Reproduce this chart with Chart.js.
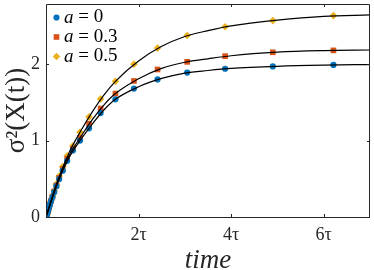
<!DOCTYPE html>
<html>
<head>
<meta charset="utf-8">
<script src="https://cdn.jsdelivr.net/npm/chart.js@4.4.1/dist/chart.umd.min.js"></script>
<style>
  html, body { margin: 0; padding: 0; background: #fff; }
  #wrap { width: 374px; height: 270px; }
</style>
</head>
<body>
<div id="wrap"><canvas id="chart" width="374" height="270"></canvas></div>
<script>
// sample times (in units of tau)
const TIMES = [0.010, 0.013, 0.017, 0.021, 0.027, 0.034, 0.043, 0.054, 0.069, 0.087,
  0.111, 0.140, 0.178, 0.225, 0.285, 0.361, 0.458, 0.580, 0.735, 0.930,
  1.18, 1.50, 1.90, 2.41, 3.05, 3.87, 4.90, 6.21];

// simulated variance, one list per value of a
const VAR_A0 = [0.020, 0.026, 0.034, 0.042, 0.053, 0.067, 0.084, 0.105, 0.133, 0.167,
  0.210, 0.262, 0.326, 0.403, 0.496, 0.606, 0.735, 0.870, 1.000, 1.160,
  1.360, 1.540, 1.680, 1.800, 1.890, 1.940, 1.970, 1.990];
const VAR_A03 = [0.020, 0.026, 0.034, 0.042, 0.054, 0.067, 0.085, 0.106, 0.135, 0.170,
  0.214, 0.268, 0.334, 0.414, 0.511, 0.626, 0.760, 0.890, 1.035, 1.220,
  1.420, 1.615, 1.780, 1.930, 2.030, 2.105, 2.155, 2.180];
const VAR_A05 = [0.020, 0.026, 0.034, 0.042, 0.054, 0.068, 0.086, 0.107, 0.137, 0.173,
  0.219, 0.275, 0.345, 0.430, 0.535, 0.660, 0.800, 0.930, 1.110, 1.310,
  1.545, 1.775, 2.000, 2.210, 2.375, 2.490, 2.570, 2.635];

// theory curves
const CURVE_T = [0, 0.25, 0.5, 0.75, 1, 1.25, 1.5, 2, 2.5, 3, 3.5, 4, 5, 6, 7];
const CURVE_A0 = [0, 0.442, 0.778, 1.012, 1.216, 1.400, 1.540, 1.704, 1.813, 1.883, 1.917, 1.944, 1.972, 1.987, 1.995];
const CURVE_A03 = [0, 0.455, 0.805, 1.050, 1.275, 1.465, 1.615, 1.810, 1.945, 2.025, 2.070, 2.110, 2.157, 2.177, 2.185];
const CURVE_A05 = [0, 0.474, 0.845, 1.125, 1.376, 1.595, 1.775, 2.041, 2.233, 2.362, 2.438, 2.500, 2.575, 2.625, 2.645];

const A_VALUES = ['0', '0.3', '0.5'];
const X_TICKS = [2, 4, 6];
const Y_TICKS = [0, 1, 2];

const AXIS = '#262626';
const SERIF = '"Liberation Serif", "DejaVu Serif", serif';

((d) => {
  const CHART = d.getElementById('chart');
  const pts = (xs, ys) => xs.map((x, i) => ({ x: x, y: ys[i] }));

  const curve = (ys) => ({
    data: pts(CURVE_T, ys),
    showLine: true,
    borderColor: '#000',
    borderWidth: 1.2,
    pointRadius: 0,
    cubicInterpolationMode: 'monotone',
    order: 0
  });

  const markers = (label, ys, color, style, r) => ({
    label: label,
    data: pts(TIMES, ys),
    pointStyle: style,
    pointRadius: r,
    pointBackgroundColor: color,
    backgroundColor: color,
    pointBorderWidth: 0,
    showLine: false,
    order: 1
  });

  // box round the plot, with small inward ticks on all four sides
  const frame = {
    id: 'frame',
    afterDraw(chart) {
      const { ctx, chartArea: a, scales: { x, y } } = chart;
      ctx.save();
      ctx.strokeStyle = AXIS;
      ctx.lineWidth = 1;
      ctx.beginPath();
      ctx.rect(a.left + 0.5, a.top + 0.5, a.right - a.left - 1, a.bottom - a.top);
      X_TICKS.forEach((v) => {
        const px = Math.round(x.getPixelForValue(v)) + 0.5;
        ctx.moveTo(px, a.bottom); ctx.lineTo(px, a.bottom - 3);
        ctx.moveTo(px, a.top); ctx.lineTo(px, a.top + 3);
      });
      Y_TICKS.forEach((v) => {
        const py = Math.round(y.getPixelForValue(v)) + 0.5;
        ctx.moveTo(a.left, py); ctx.lineTo(a.left + 3, py);
        ctx.moveTo(a.right, py); ctx.lineTo(a.right - 3, py);
      });
      ctx.stroke();
      ctx.restore();
    }
  };

  // legend inside the upper left corner
  const legendBox = {
    id: 'legendBox',
    afterDatasetsDraw(chart) {
      const ctx = chart.ctx;
      const a = chart.chartArea;
      let row = a.top + 13.5;
      ctx.save();
      chart.data.datasets.filter((ds) => ds.label).forEach((ds) => {
        ctx.fillStyle = ds.backgroundColor;
        Chart.helpers.drawPoint(ctx, { pointStyle: ds.pointStyle, radius: ds.pointRadius, borderWidth: 0 }, a.left + 10.5, row);
        ctx.fillStyle = '#000';
        ctx.textBaseline = 'middle';
        ctx.font = 'italic 19px ' + SERIF;
        ctx.fillText('a', a.left + 18, row);
        const w = ctx.measureText('a').width;
        ctx.font = '19px ' + SERIF;
        ctx.fillText(' = ' + ds.label, a.left + 18 + w, row);
        row += 19.5;
      });
      ctx.restore();
    }
  };

  new Chart(CHART, {
    type: 'scatter',
    data: {
      datasets: [
        markers(A_VALUES[0], VAR_A0, '#0072BD', 'circle', 3.1),
        markers(A_VALUES[1], VAR_A03, '#D95319', 'rect', 4),
        markers(A_VALUES[2], VAR_A05, '#EDB120', 'rectRot', 3.8),
        curve(CURVE_A0),
        curve(CURVE_A03),
        curve(CURVE_A05)
      ]
    },
    options: {
      responsive: false,
      animation: false,
      devicePixelRatio: 1,
      layout: { padding: { top: 1, right: 1, left: 0, bottom: 0 } },
      plugins: {
        legend: { display: false },
        tooltip: { enabled: false }
      },
      scales: {
        x: {
          type: 'linear',
          min: 0,
          max: 7,
          afterBuildTicks: (s) => { s.ticks = X_TICKS.map((v) => ({ value: v })); },
          afterFit: (s) => {
            s.height = 53;
            s.paddingLeft = 0;
            s.paddingRight = 0;
          },
          grid: { display: false, drawTicks: false },
          border: { display: false },
          ticks: {
            callback: (v) => v + 'τ',
            color: AXIS,
            font: { family: SERIF, size: 18 },
            padding: 7,
            maxRotation: 0
          },
          title: {
            display: true,
            text: 'time',
            color: AXIS,
            font: { family: SERIF, size: 27, style: 'italic' },
            padding: { top: 0, bottom: -7 }
          }
        },
        y: {
          type: 'linear',
          min: 0,
          max: 2.787,
          afterBuildTicks: (s) => { s.ticks = Y_TICKS.map((v) => ({ value: v })); },
          afterFit: (s) => {
            s.width = 46;
            s.paddingTop = 0;
            s.paddingBottom = 0;
          },
          grid: { display: false, drawTicks: false },
          border: { display: false },
          ticks: {
            color: AXIS,
            font: { family: SERIF, size: 18 },
            padding: 6
          },
          title: {
            display: true,
            text: 'σ²(X(t))',
            color: AXIS,
            font: { family: SERIF, size: 27 },
            padding: { top: 1, bottom: 0 }
          }
        }
      }
    },
    plugins: [frame, legendBox]
  });
})(document);
</script>
</body>
</html>
